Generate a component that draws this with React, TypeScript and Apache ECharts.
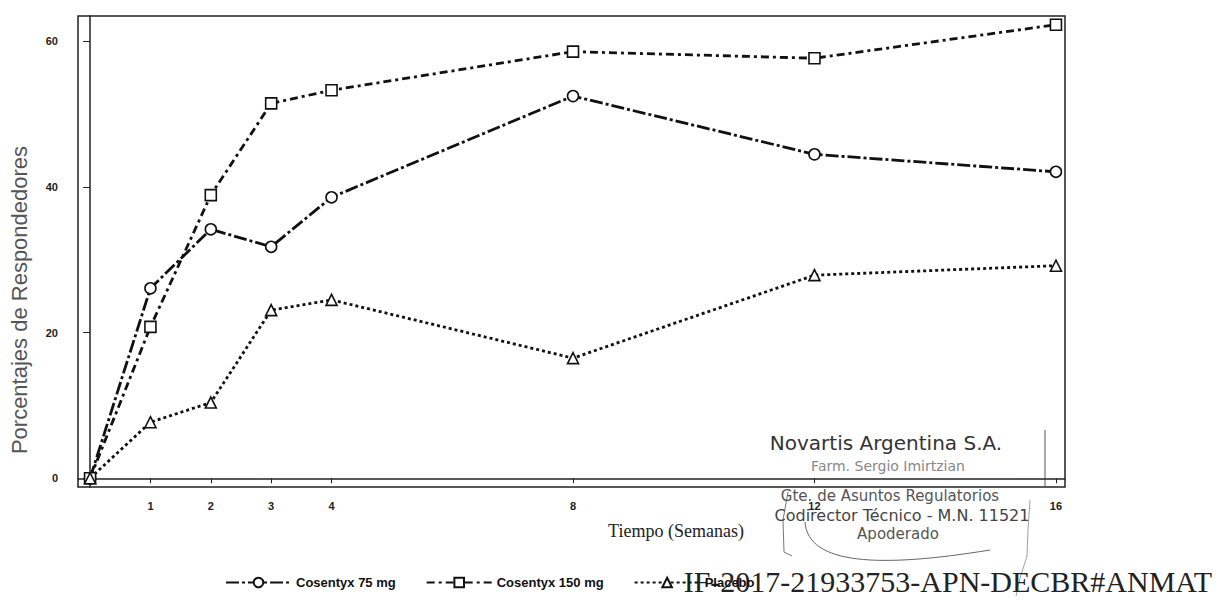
import React, { useEffect, useRef } from "react";
import * as echarts from "echarts";

const weeks = [0, 1, 2, 3, 4, 8, 12, 16];
const cos75 = [0, 26.1, 34.2, 31.8, 38.6, 52.5, 44.5, 42.1];
const cos150 = [0, 20.8, 38.9, 51.5, 53.3, 58.6, 57.7, 62.3];
const placebo = [0, 7.7, 10.4, 23.1, 24.5, 16.5, 27.9, 29.2];
const xTicks = [1, 2, 3, 4, 8, 12, 16];
const yTicks = [0, 20, 40, 60];
const seriesNames = ["Cosentyx 75 mg", "Cosentyx 150 mg", "Placebo"];

const pairs = (ys: number[]) => weeks.map((w, i) => [w, ys[i]]);

export default function App() {
  const ref = useRef<HTMLDivElement>(null);
  useEffect(() => {
    document.body.style.margin = "0";
    const chart = echarts.init(ref.current!, null, { renderer: "svg" });
    const ink = "#111";
    const mkSeries = (name: string, data: number[], symbol: string, dash: number[], size: number) => ({
      name,
      type: "line",
      data: pairs(data),
      symbol,
      symbolSize: size,
      showSymbol: true,
      lineStyle: { color: ink, width: 2.8, type: dash },
      itemStyle: { color: "#fff", borderColor: ink, borderWidth: 1.6 },
      z: 3,
    });
    const stampText = (text: string, x: number, y: number, size: number, fill: string) => ({
      type: "text",
      x,
      y,
      z: 10,
      style: { text, fontSize: size, fill, fontFamily: "DejaVu Sans", align: "center", verticalAlign: "middle" },
    });
    chart.setOption({
      animation: false,
      backgroundColor: "#fff",
      grid: {
        left: 78,
        top: 16,
        width: 987,
        height: 471,
        show: true,
        borderColor: "#222",
        borderWidth: 1.5,
        backgroundColor: "transparent",
      },
      xAxis: {
        type: "value",
        min: -0.2,
        max: 16.15,
        splitLine: { show: false },
        axisLine: { show: true, lineStyle: { color: "#222", width: 1.5 } },
        axisTick: { show: true, customValues: xTicks, length: 5, lineStyle: { color: "#222" } },
        axisLabel: {
          customValues: xTicks,
          fontSize: 11,
          fontWeight: "bold",
          color: "#222",
          margin: 13,
          fontFamily: "Liberation Sans",
        },
      },
      yAxis: {
        type: "value",
        min: -1.2,
        max: 63.5,
        splitLine: { show: false },
        axisLine: { show: true, lineStyle: { color: "#222", width: 1.5 } },
        axisTick: { show: true, customValues: yTicks, length: 7, lineStyle: { color: "#222" } },
        axisLabel: {
          customValues: yTicks,
          fontSize: 11,
          fontWeight: "bold",
          color: "#222",
          margin: 20,
          fontFamily: "Liberation Sans",
        },
      },
      legend: {
        left: 220,
        top: 571,
        itemWidth: 65,
        itemHeight: 12,
        itemGap: 30,
        data: seriesNames,
        textStyle: { fontSize: 13, color: "#111", fontFamily: "Liberation Sans", fontWeight: "bold" },
      },
      series: [
        mkSeries(seriesNames[0], cos75, "circle", [13, 3, 3, 3], 11),
        mkSeries(seriesNames[1], cos150, "rect", [8, 4, 3, 4], 11),
        mkSeries(seriesNames[2], placebo, "triangle", [3, 3], 11),
      ],
      graphic: [
        {
          type: "text",
          x: 19,
          y: 300,
          rotation: Math.PI / 2,
          style: {
            text: "Porcentajes de Respondedores",
            fontSize: 22,
            fill: "#555",
            fontFamily: "Liberation Sans",
            align: "center",
            verticalAlign: "middle",
          },
        },
        {
          type: "text",
          x: 676,
          y: 531,
          style: {
            text: "Tiempo (Semanas)",
            fontSize: 18,
            fill: "#222",
            fontFamily: "Liberation Serif",
            align: "center",
            verticalAlign: "middle",
          },
        },
        stampText("Novartis Argentina S.A.", 886, 443, 20, "#333"),
        stampText("Farm. Sergio Imirtzian", 888, 466, 14, "#888"),
        stampText("Gte. de Asuntos Regulatorios", 890, 496, 15, "#555"),
        stampText("Codirector Técnico - M.N. 11521", 902, 515, 16, "#444"),
        stampText("Apoderado", 898, 534, 15, "#555"),
        {
          type: "bezierCurve",
          shape: { x1: 805, y1: 522, x2: 990, y2: 550, cpx1: 808, cpy1: 565, cpx2: 880, cpy2: 568 },
          style: { stroke: "#666", lineWidth: 1, fill: null },
        },
        {
          type: "polyline",
          shape: { points: [[788, 492], [783, 520], [784, 552], [792, 556]] },
          style: { stroke: "#777", lineWidth: 1, fill: null },
        },
        {
          type: "polyline",
          shape: { points: [[1030, 500], [1028, 530], [1027, 556], [1020, 578], [1016, 596]] },
          style: { stroke: "#888", lineWidth: 0.8, fill: null },
        },
        {
          type: "polyline",
          shape: { points: [[1045, 430], [1045, 487]] },
          style: { stroke: "#555", lineWidth: 1, fill: null },
        },
        {
          type: "text",
          x: 1212,
          y: 581,
          style: {
            text: "IF-2017-21933753-APN-DECBR#ANMAT",
            fontSize: 30,
            fill: "#222",
            fontFamily: "Liberation Serif",
            align: "right",
            verticalAlign: "middle",
          },
        },
      ],
    });
    return () => chart.dispose();
  }, []);
  return <div ref={ref} style={{ width: 1221, height: 601 }} />;
}
